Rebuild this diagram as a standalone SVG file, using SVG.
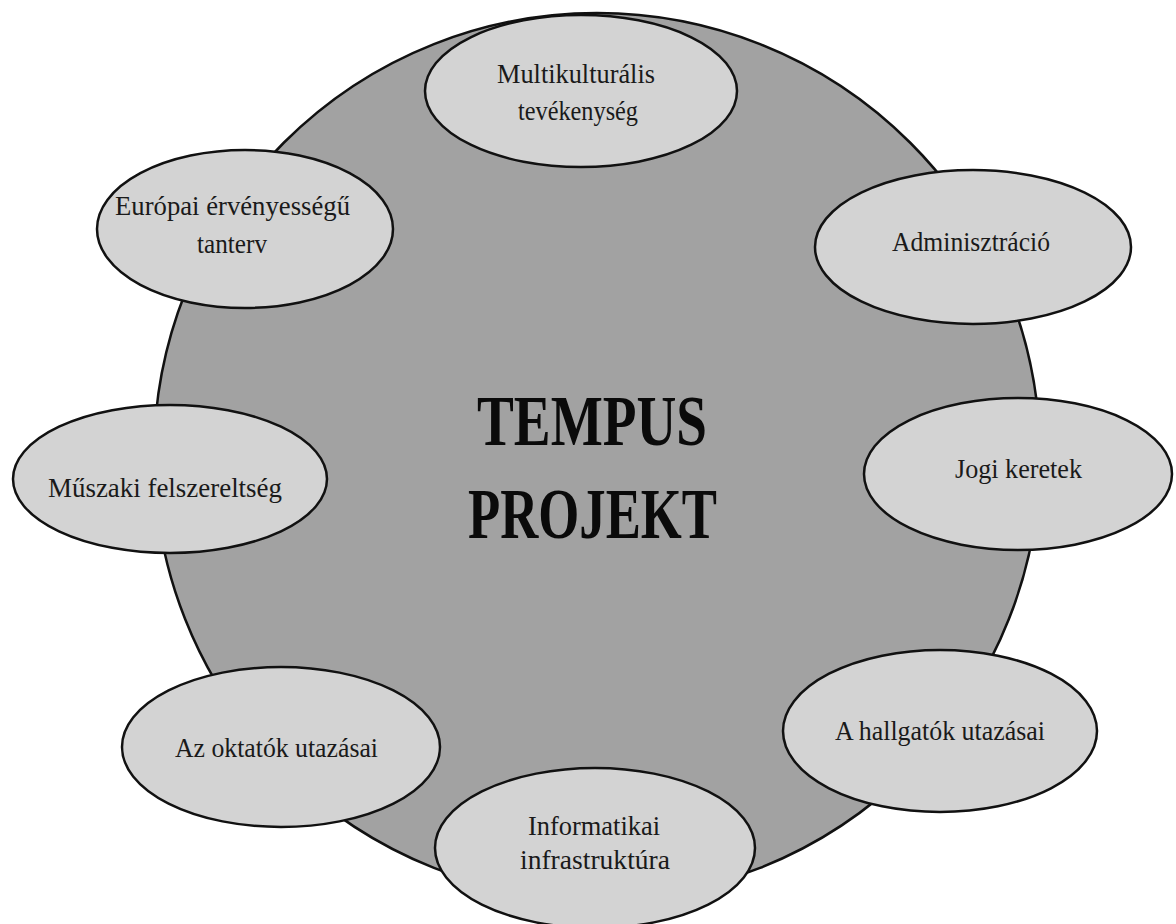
<svg xmlns="http://www.w3.org/2000/svg" width="1176" height="924" viewBox="0 0 1176 924">
<style>
.bg{fill:#ffffff}
.main{fill:#a2a2a2;stroke:#111;stroke-width:2.5}
.node{fill:#d3d3d3;stroke:#111;stroke-width:2.5}
.lbl{font-family:"Liberation Serif","Times New Roman",serif;font-size:28px;fill:#1a1a1a;text-anchor:start}
.title{font-family:"Liberation Serif","Times New Roman",serif;font-size:72px;font-weight:bold;fill:#0a0a0a}
</style>
<rect class="bg" x="0" y="0" width="1176" height="924"/>
<g id="center">
<circle class="main" cx="597" cy="456" r="443"/>
<text class="title" x="477" y="445" textLength="230" lengthAdjust="spacingAndGlyphs">TEMPUS</text>
<text class="title" x="468" y="538" textLength="249" lengthAdjust="spacingAndGlyphs">PROJEKT</text>
</g>
<g id="connectors"></g>
<g id="n-multikulturalis">
<ellipse class="node" cx="581" cy="91" rx="156" ry="76"/>
<text class="lbl" x="497" y="83" textLength="158" lengthAdjust="spacingAndGlyphs">Multikulturális</text>
<text class="lbl" x="518" y="120" textLength="120" lengthAdjust="spacingAndGlyphs">tevékenység</text>
</g>
<g id="n-europai">
<ellipse class="node" cx="245" cy="229" rx="148" ry="79"/>
<text class="lbl" x="115" y="215" textLength="235" lengthAdjust="spacingAndGlyphs">Európai érvényességű</text>
<text class="lbl" x="197" y="253" textLength="70" lengthAdjust="spacingAndGlyphs">tanterv</text>
</g>
<g id="n-adminisztracio">
<ellipse class="node" cx="973" cy="247" rx="158" ry="77"/>
<text class="lbl" x="892" y="251" textLength="158" lengthAdjust="spacingAndGlyphs">Adminisztráció</text>
</g>
<g id="n-muszaki">
<ellipse class="node" cx="170" cy="479" rx="157" ry="74"/>
<text class="lbl" x="48" y="497" textLength="234" lengthAdjust="spacingAndGlyphs">Műszaki felszereltség</text>
</g>
<g id="n-jogi">
<ellipse class="node" cx="1018" cy="474" rx="154" ry="76"/>
<text class="lbl" x="955" y="478" textLength="127" lengthAdjust="spacingAndGlyphs">Jogi keretek</text>
</g>
<g id="n-oktatok">
<ellipse class="node" cx="281" cy="747" rx="159" ry="80"/>
<text class="lbl" x="175" y="757" textLength="203" lengthAdjust="spacingAndGlyphs">Az oktatók utazásai</text>
</g>
<g id="n-hallgatok">
<ellipse class="node" cx="940" cy="731" rx="157" ry="81"/>
<text class="lbl" x="835" y="740" textLength="210" lengthAdjust="spacingAndGlyphs">A hallgatók utazásai</text>
</g>
<g id="n-informatikai">
<ellipse class="node" cx="595" cy="848" rx="160" ry="80"/>
<text class="lbl" x="528" y="835" textLength="132" lengthAdjust="spacingAndGlyphs">Informatikai</text>
<text class="lbl" x="520" y="869" textLength="150" lengthAdjust="spacingAndGlyphs">infrastruktúra</text>
</g>
</svg>
